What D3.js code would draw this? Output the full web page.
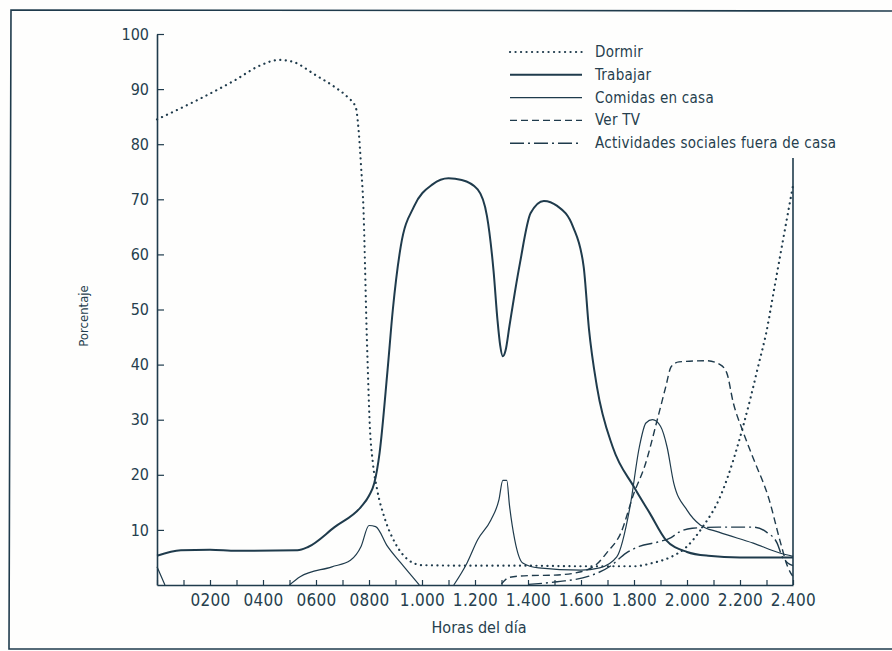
<!DOCTYPE html>
<meta charset="utf-8">
<style>
body { margin: 0; background: #fefefd; }
text {
    font-family: 'Liberation Sans Narrow', 'DejaVu Sans Condensed', 'Roboto', sans-serif;
    font-stretch: condensed;
    fill: #263f4e;
}
.tick line, .domain { stroke: #1f3b4c; }
</style>
<script src="https://d3js.org/d3.v7.min.js"></script>
<div id="chart"></div>
<script>

// values: [hour, percent]
var dormir = [[0,84.5],[1.6,88.2],[2.9,91.5],[3.9,94.3],[4.6,95.3],[5.1,95],[6,92.5],[6.7,90.4],
    [7.2,88.5],[7.5,86.7],[7.6,83],[7.7,76],[7.8,67],[7.85,58],[7.9,48],[7.95,40],[8.02,30],
    [8.15,22],[8.3,17.5],[8.6,12],[9,7.5],[9.5,4.5],[10,3.6],[12,3.5],[14,3.5],[16,3.4],[18,3.4],
    [18.7,4],[19.4,5.1],[20,7],[20.6,10.6],[21.25,16],[21.75,22.7],[22.1,28.5],[22.4,34],
    [22.7,40],[23,46],[23.3,54],[23.6,62],[24,72.5]];

var trabajar = [[0,5.3],[0.9,6.3],[2,6.4],[3,6.2],[5.3,6.3],[5.7,6.9],[6.7,10.5],[7.7,14.2],
    [8,16.2],[8.2,18.5],[8.4,24],[8.7,39],[8.9,50],[9.2,61.5],[9.7,68.7],[10.4,72.7],[11,73.8],
    [11.5,73.5],[12.1,71.8],[12.45,67],[12.7,57],[12.85,48],[12.95,43.5],[13.05,41.5],[13.15,42.5],
    [13.3,47],[13.5,53],[13.7,58.5],[14.1,67.5],[14.6,69.7],[15.1,68.8],[15.7,65],[16.1,57.8],
    [16.3,46.5],[16.6,36],[17.2,25],[18,17.8],[18.6,13],[19.2,8.2],[20,6],[20.8,5.3],[22,5],[24,5]];

// null marks a gap where the line is not drawn
var comidas = [[0,3.3],[0.3,0],[2,null],[5,0],[5.4,1.5],[6.6,3.3],[7.3,4.5],[7.7,7],[8,10.8],
    [8.25,10.6],[8.7,7],[9.2,4],[9.9,0],[10.5,null],[11.2,0],[11.7,4],[12.1,8.2],[12.6,11.8],
    [12.9,15.4],[13.05,19],[13.2,19],[13.3,14.5],[13.5,8.2],[13.8,4],[14.4,3.1],[16,2.7],
    [16.7,3.1],[17.35,5.1],[17.85,14.2],[18.2,25],[18.45,29.4],[18.7,30],[19,28.8],[19.25,25],
    [19.5,18.5],[20,13.6],[20.5,10.9],[21.2,9.6],[22.5,7.6],[23.5,5.8],[24,5.2]];

var verTV = [[13,0.2],[13.3,1.4],[14,1.7],[15,1.8],[16,2.4],[16.6,3.8],[17,6],[17.5,9.4],
    [18,16.7],[18.4,21.5],[18.9,30.4],[19.2,36],[19.4,39.6],[19.7,40.5],[20.75,40.7],
    [21.25,40],[21.5,38.5],[21.75,33],[22.1,28],[22.5,23],[23.1,15.5],[23.5,8.2],[23.8,3.3],[24,1.5]];

var sociales = [[14,0.1],[15.1,0.6],[16.3,1.6],[17.1,3.4],[17.7,5.8],[18.2,7],[18.9,7.8],
    [19.4,8.6],[19.7,9.6],[20.2,10.3],[21.2,10.5],[22.5,10.5],[23,9.6],[23.4,7.6],[23.6,5.1],
    [23.8,4],[24,3.5]];

var seriesNames = ["Dormir", "Trabajar", "Comidas en casa", "Ver TV", "Actividades sociales fuera de casa"];
var xTickHours = [2, 4, 6, 8, 10, 12, 14, 16, 18, 20, 22, 24];
var xTickLabels = ["0200", "0400", "0600", "0800", "1.000", "1.200", "1.400", "1.600", "1.800", "2.000", "2.200", "2.400"];
var yTicks = [10, 20, 30, 40, 50, 60, 70, 80, 90, 100];

var ink = "#1f3b4c";
var styles = [
    {dash: "0.1,5.4", w: 2.2, cap: "round"},
    {dash: null, w: 2, cap: "butt"},
    {dash: null, w: 1.2, cap: "butt"},
    {dash: "7,4", w: 1.4, cap: "butt"},
    {dash: "14,4,2,4", w: 1.4, cap: "butt"}
];

var svg = d3.select("#chart").append("svg")
    .attr("width", 892)
    .attr("height", 651);

// photocopy frame
svg.append("path")
    .attr("d", "M892,11 L11,10 L9,649 L892,649")
    .attr("fill", "none")
    .attr("stroke", ink)
    .attr("stroke-width", 1.6);

var x = d3.scaleLinear().domain([0, 24]).range([157, 793]);
var y = d3.scaleLinear().domain([0, 100]).range([585, 34]);

// x axis, ticks every hour pointing up
var xAxis = svg.append("g")
    .attr("transform", "translate(0," + y(0) + ")")
    .call(d3.axisBottom(x)
        .tickValues(d3.range(0, 25))
        .tickSizeInner(-5)
        .tickSizeOuter(0)
        .tickPadding(9)
        .tickFormat(function(d) {
            var i = xTickHours.indexOf(d);
            return i < 0 ? "" : xTickLabels[i];
        }));
xAxis.selectAll("text").style("font-size", "17px").style("letter-spacing", "0.3px");

// y axis
var yAxis = svg.append("g")
    .attr("transform", "translate(" + x(0) + ",0)")
    .call(d3.axisLeft(y)
        .tickValues(yTicks)
        .tickSizeInner(-7)
        .tickSizeOuter(0)
        .tickPadding(8));
yAxis.selectAll("text").style("font-size", "16px");
svg.selectAll(".domain").attr("stroke-width", 1.6);
svg.selectAll(".tick line").attr("stroke-width", 1.2);

// right border of the plot
svg.append("line")
    .attr("x1", x(24)).attr("x2", x(24))
    .attr("y1", 158).attr("y2", y(0))
    .attr("stroke", ink)
    .attr("stroke-width", 1.6);

var line = d3.line()
    .defined(function(d) { return d[1] !== null; })
    .x(function(d) { return x(d[0]); })
    .y(function(d) { return y(d[1]); })
    .curve(d3.curveMonotoneX);

var allSeries = [dormir, trabajar, comidas, verTV, sociales];
allSeries.forEach(function(s, i) {
    svg.append("path")
        .datum(s)
        .attr("d", line)
        .attr("fill", "none")
        .attr("stroke", ink)
        .attr("stroke-width", styles[i].w)
        .attr("stroke-linecap", styles[i].cap)
        .attr("stroke-dasharray", styles[i].dash);
});

// legend
var legend = svg.append("g").attr("transform", "translate(510,52)");
seriesNames.forEach(function(name, i) {
    legend.append("line")
        .attr("x1", 0).attr("x2", 72)
        .attr("y1", i * 22.8).attr("y2", i * 22.8)
        .attr("stroke", ink)
        .attr("stroke-width", styles[i].w)
        .attr("stroke-linecap", styles[i].cap)
        .attr("stroke-dasharray", styles[i].dash);
    legend.append("text")
        .attr("x", 85)
        .attr("y", i * 22.8 + 5)
        .style("font-size", "15px")
        .style("letter-spacing", "0.27px")
        .text(name);
});

// axis titles
svg.append("text")
    .attr("x", 479)
    .attr("y", 633)
    .attr("text-anchor", "middle")
    .style("font-size", "16px")
    .text("Horas del día");

svg.append("text")
    .attr("transform", "translate(88,316)rotate(-90)")
    .attr("text-anchor", "middle")
    .style("font-size", "13px")
    .text("Porcentaje");

</script>
